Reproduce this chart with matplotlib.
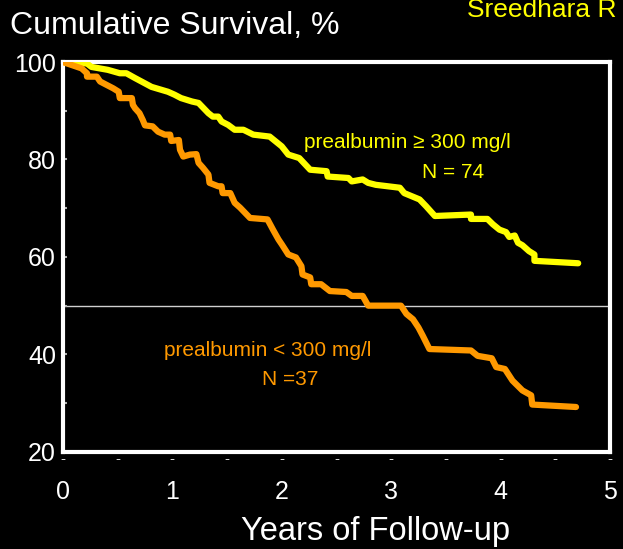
import matplotlib
matplotlib.use("Agg")
import matplotlib.pyplot as plt
from matplotlib.ticker import MultipleLocator

plt.rcParams['font.family'] = ['Liberation Sans', 'DejaVu Sans']

# survival curves (years, % surviving)
high_years = [0.0, 0.22, 0.26, 0.41, 0.52, 0.58, 0.66, 0.81, 0.96, 1.02, 1.08, 1.18, 1.24,
              1.33, 1.37, 1.42, 1.45, 1.51, 1.57, 1.65, 1.74, 1.89, 2.00, 2.06, 2.16, 2.26,
              2.41, 2.42, 2.61, 2.64, 2.74, 2.79, 2.86, 3.08, 3.12, 3.26, 3.32, 3.40, 3.73,
              3.73, 3.88, 3.93, 3.99, 4.05, 4.08, 4.13, 4.16, 4.20, 4.26, 4.31, 4.31, 4.71]
high_surv = [100.0, 99.7, 99.0, 98.4, 97.7, 97.7, 96.7, 94.9, 93.9, 93.3, 92.6, 91.9, 91.6,
             89.5, 88.8, 88.8, 87.8, 87.1, 86.1, 86.1, 85.1, 84.7, 82.7, 81.0, 80.3, 77.9,
             77.6, 76.5, 76.2, 75.5, 75.9, 75.2, 74.8, 74.2, 73.1, 71.8, 70.4, 68.4, 68.7,
             67.8, 67.8, 66.7, 65.6, 65.1, 64.1, 64.4, 62.9, 62.4, 61.2, 60.5, 59.2, 58.7]

low_years = [0.0, 0.17, 0.22, 0.22, 0.31, 0.34, 0.40, 0.46, 0.51, 0.52, 0.63, 0.64, 0.66,
             0.70, 0.73, 0.75, 0.82, 0.87, 0.93, 0.98, 0.99, 1.06, 1.07, 1.10, 1.16, 1.22,
             1.24, 1.28, 1.33, 1.34, 1.42, 1.45, 1.46, 1.53, 1.57, 1.62, 1.71, 1.87, 1.92,
             1.97, 2.00, 2.06, 2.13, 2.18, 2.19, 2.26, 2.27, 2.36, 2.44, 2.59, 2.64, 2.74,
             2.79, 3.09, 3.14, 3.20, 3.25, 3.29, 3.35, 3.73, 3.79, 3.92, 3.96, 4.04, 4.11,
             4.20, 4.28, 4.29, 4.69]
low_surv = [100.0, 98.7, 97.7, 97.0, 97.0, 96.0, 95.3, 94.6, 93.9, 92.6, 92.6, 91.2, 90.5,
            89.5, 88.1, 87.0, 86.8, 85.7, 85.1, 85.1, 83.8, 84.0, 82.0, 80.6, 81.0, 81.1,
            79.3, 78.3, 76.9, 75.2, 74.5, 74.5, 73.1, 73.1, 71.1, 70.1, 68.0, 67.7, 65.6,
            63.6, 62.6, 60.5, 59.9, 58.1, 56.4, 55.8, 54.4, 54.4, 53.0, 52.8, 52.0, 52.0,
            50.0, 50.0, 48.3, 47.2, 45.5, 43.8, 41.1, 40.8, 39.7, 39.2, 37.4, 37.0, 34.6,
            32.6, 31.6, 29.7, 29.2]

yellow = '#ffff00'
orange = '#ff9900'

fig = plt.figure(figsize=(6.23, 5.49), dpi=100)
fig.patch.set_facecolor('black')
ax = fig.add_axes([0.101, 0.177, 0.878, 0.710])
ax.set_facecolor('black')

ax.axhline(50, color='#d0d0d0', lw=1.0, zorder=1)
ax.plot(high_years, high_surv, color=yellow, lw=4.5, solid_joinstyle='round',
        solid_capstyle='round', zorder=3)
ax.plot(low_years, low_surv, color=orange, lw=4.5, solid_joinstyle='round',
        solid_capstyle='round', zorder=3)

ax.set_xlim(0, 5)
ax.set_ylim(20, 100)

for s in ax.spines.values():
    s.set_color('white')
    s.set_linewidth(3)

# y ticks: labels every 20, small grey marks every 10 inside the frame
ax.yaxis.set_major_locator(MultipleLocator(20))
ax.yaxis.set_minor_locator(MultipleLocator(10))
ax.tick_params(axis='y', which='both', direction='in', length=3, width=1.5,
               color='#b0b0b0', labelcolor='white', labelsize=18, pad=5)

# x ticks: numbers every year, dashes every half year under the frame
ax.xaxis.remove_overlapping_locs = False
ax.xaxis.set_major_locator(MultipleLocator(1))
ax.tick_params(axis='x', which='major', length=0, labelcolor='white', labelsize=18, pad=20)
ax.tick_params(axis='x', which='minor', length=0, labelcolor='#dddddd', labelsize=11, pad=0)
ax.set_xticks([i * 0.5 for i in range(11)], ['-'] * 11, minor=True)

ax.set_xlabel('Years of Follow-up', color='white', fontsize=23.5)
ax.xaxis.set_label_coords(0.572, -0.205)
ax.xaxis.label.set_va('center')

ax.text(3.15, 83.4, 'prealbumin ≥ 300 mg/l', color=yellow, fontsize=15,
        ha='center', va='center')
ax.text(3.57, 77.4, 'N = 74', color=yellow, fontsize=15, ha='center', va='center')
ax.text(1.87, 40.7, 'prealbumin < 300 mg/l', color=orange, fontsize=15,
        ha='center', va='center')
ax.text(2.08, 34.8, 'N =37', color=orange, fontsize=15, ha='center', va='center')

fig.text(10 / 623, 1 - 34 / 549, 'Cumulative Survival, %', color='white', fontsize=23,
         ha='left', va='baseline')
fig.text(467 / 623, 1 - 17 / 549, 'Sreedhara R', color=yellow, fontsize=19,
         ha='left', va='baseline')

fig.savefig('out.png', dpi=100, facecolor='black')
